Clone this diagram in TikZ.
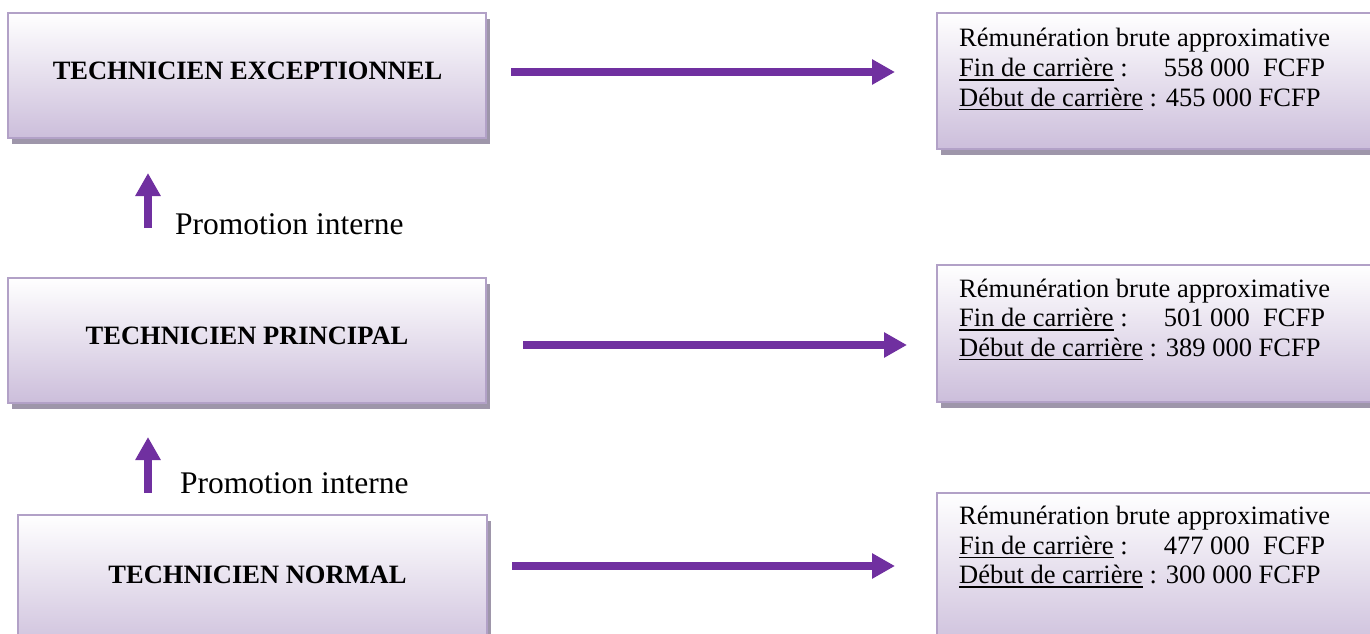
\documentclass[tikz,border=0pt]{standalone}
\usepackage{fontspec}
\setmainfont{Liberation Serif}
\usetikzlibrary{arrows.meta,shadows}
\definecolor{arrowpurple}{RGB}{112,48,160}
\definecolor{boxborder}{RGB}{178,161,199}
\definecolor{boxbottom}{RGB}{204,190,219}
\definecolor{shadowgray}{RGB}{158,150,170}
\newcommand{\myul}[1]{\vtop{\hbox{#1}\kern2.4pt\hrule height 1.4pt}}
\tikzset{
  gradebox/.style={draw=boxborder, line width=2.2pt, top color=white, bottom color=boxbottom,
    inner sep=0pt, outer sep=0pt, anchor=north west,
    drop shadow={shadow xshift=4pt, shadow yshift=-6pt, fill=shadowgray, opacity=1}},
  titletext/.style={font=\fontsize{26.5}{30}\selectfont\bfseries, anchor=base, inner sep=0pt},
  paytext/.style={font=\fontsize{26.5}{30}\selectfont, anchor=base west, inner sep=0pt},
  promotext/.style={font=\fontsize{31.5}{36}\selectfont, anchor=base west, inner sep=0pt},
  bigarrow/.style={draw=arrowpurple, line width=8pt, -{Triangle[length=23pt,width=24pt]}},
}
\begin{document}
\begin{tikzpicture}[x=1pt,y=-1pt]
\useasboundingbox (0,0) rectangle (1370,634);
\clip (0,0) rectangle (1370,634);

% left boxes
\node[gradebox, minimum width=478pt, minimum height=125pt] (b1) at (8,13) {};
\node[gradebox, minimum width=478pt, minimum height=125pt] (b2) at (8,278) {};
\node[gradebox, minimum width=469pt, minimum height=140pt] (b3) at (18,515) {};
\node[titletext] (t1) at (247.5,80) {TECHNICIEN EXCEPTIONNEL};
\node[titletext] (t2) at (247,344) {TECHNICIEN PRINCIPAL};
\node[titletext] (t3) at (257.5,583) {TECHNICIEN NORMAL};

% right boxes
\node[gradebox, minimum width=460pt, minimum height=136pt] (r1) at (937,13) {};
\node[gradebox, minimum width=460pt, minimum height=137pt] (r2) at (937,265) {};
\node[gradebox, minimum width=460pt, minimum height=160pt] (r3) at (937,493) {};

\node[paytext] (r1a) at (959,47) {Rémunération brute approximative};
\node[paytext] (r1b) at (959,76.5) {\makebox[204.6pt][l]{\myul{Fin de carrière} :}558 000\ \ FCFP};
\node[paytext] (r1c) at (959,106) {\myul{Début de carrière} : 455 000 FCFP};

\node[paytext] (r2a) at (959,297) {Rémunération brute approximative};
\node[paytext] (r2b) at (959,326.5) {\makebox[204.6pt][l]{\myul{Fin de carrière} :}501 000\ \ FCFP};
\node[paytext] (r2c) at (959,356) {\myul{Début de carrière} : 389 000 FCFP};

\node[paytext] (r3a) at (959,524.5) {Rémunération brute approximative};
\node[paytext] (r3b) at (959,554) {\makebox[204.6pt][l]{\myul{Fin de carrière} :}477 000\ \ FCFP};
\node[paytext] (r3c) at (959,583.5) {\myul{Début de carrière} : 300 000 FCFP};

% promotion labels
\node[promotext] (p1) at (175,234) {Promotion interne};
\node[promotext] (p2) at (180,493) {Promotion interne};

% arrow end points
\coordinate (a1s) at (511,72);
\coordinate (a1e) at (895,72);
\coordinate (a2s) at (523,345);
\coordinate (a2e) at (907,345);
\coordinate (a3s) at (512,566);
\coordinate (a3e) at (895,566);
\coordinate (u1s) at (148,228);
\coordinate (u1e) at (148,173);
\coordinate (u2s) at (148,493);
\coordinate (u2e) at (148,437);

\draw[bigarrow] (a1s) -- (a1e);
\draw[bigarrow] (a2s) -- (a2e);
\draw[bigarrow] (a3s) -- (a3e);
\draw[bigarrow] (u1s) -- (u1e);
\draw[bigarrow] (u2s) -- (u2e);
\end{tikzpicture}
\end{document}
